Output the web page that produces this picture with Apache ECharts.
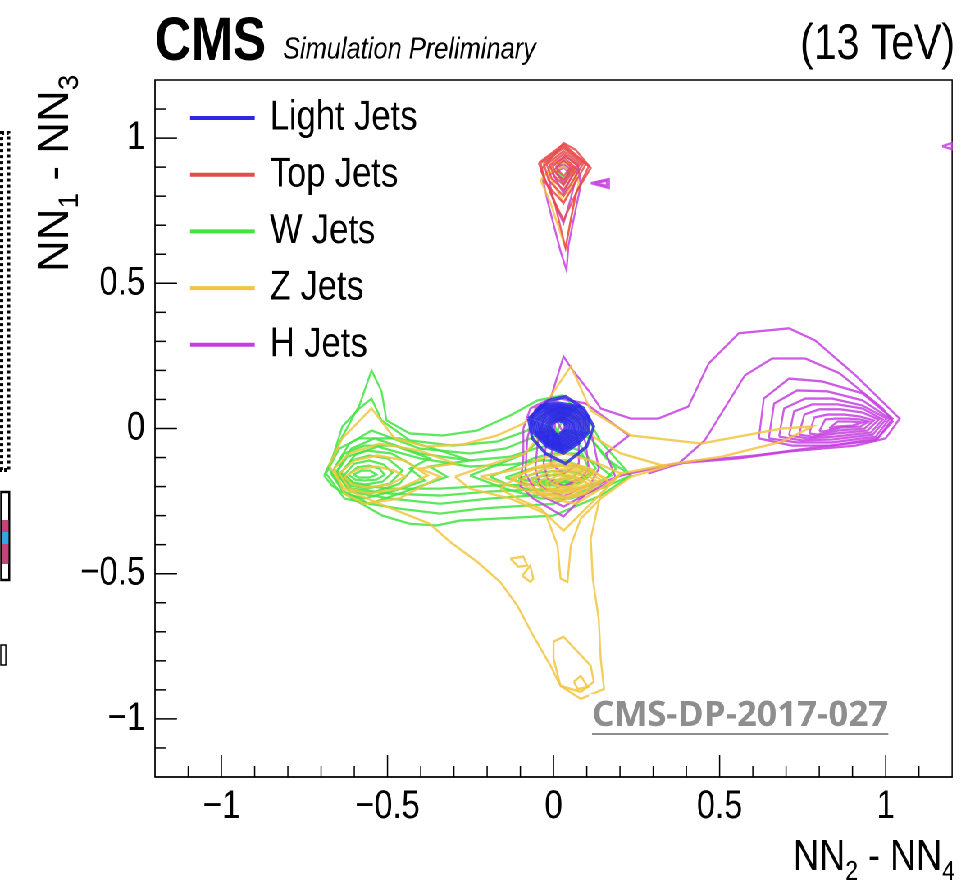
<!DOCTYPE html>
<html>
<head>
<meta charset="utf-8">
<script src="https://cdn.jsdelivr.net/npm/echarts@6/dist/echarts.min.js"></script>
<style>
html, body { margin: 0; padding: 0; background: #fff; overflow: hidden; }
#wrap { width: 1177px; height: 890px; transform: scaleX(0.82); transform-origin: 0 0; }
#chart { width: 1177px; height: 890px; }
</style>
</head>
<body>
<div id="wrap"><div id="chart"></div></div>
<script>
// Jet classes, in legend order, and their contour colours
const jetNames = ['Light Jets', 'Top Jets', 'W Jets', 'Z Jets', 'H Jets'];
const jetColors = ['#2a2ae4', '#e64a4a', '#3fe43f', '#f2c540', '#c63ee0'];

// Axis range, labelled (major) ticks and unlabelled (minor) ticks
const axisMin = -1.2;
const axisMax = 1.2;
const majorTicks = [-1, -0.5, 0, 0.5, 1];
const minorTicks = [-1.1, -0.9, -0.8, -0.7, -0.6, -0.4, -0.3, -0.2, -0.1, 0.1, 0.2, 0.3, 0.4, 0.6, 0.7, 0.8, 0.9, 1.1];

// Iso-density contours, one closed ring per entry, in (NN2 - NN4, NN1 - NN3) units
const lightJetsContours = [
  [[-0.076,0.034],[-0.015,0.097],[0.036,0.110],[0.091,0.069],[0.121,0.007],[0.100,-0.062],[0.036,-0.121],[-0.024,-0.086],[-0.064,-0.034]],
  [[-0.070,0.034],[-0.040,0.078],[0.012,0.088],[0.078,0.076],[0.108,0.034],[0.106,-0.012],[0.076,-0.050],[0.030,-0.085],[-0.020,-0.062],[-0.062,-0.012]],
  [[-0.064,0.032],[-0.036,0.072],[0.012,0.081],[0.073,0.070],[0.101,0.032],[0.099,-0.011],[0.071,-0.046],[0.028,-0.078],[-0.017,-0.057],[-0.056,-0.011]],
  [[-0.058,0.030],[-0.032,0.067],[0.013,0.075],[0.068,0.065],[0.094,0.030],[0.092,-0.010],[0.066,-0.042],[0.027,-0.072],[-0.015,-0.053],[-0.051,-0.010]],
  [[-0.051,0.027],[-0.027,0.062],[0.013,0.069],[0.063,0.060],[0.087,0.027],[0.085,-0.009],[0.061,-0.038],[0.025,-0.066],[-0.012,-0.048],[-0.045,-0.009]],
  [[-0.045,0.025],[-0.022,0.057],[0.014,0.063],[0.058,0.055],[0.080,0.025],[0.078,-0.008],[0.056,-0.035],[0.024,-0.060],[-0.010,-0.044],[-0.040,-0.008]],
  [[-0.039,0.022],[-0.018,0.051],[0.014,0.057],[0.053,0.049],[0.073,0.022],[0.071,-0.007],[0.051,-0.031],[0.022,-0.054],[-0.007,-0.040],[-0.034,-0.007]],
  [[-0.033,0.020],[-0.013,0.046],[0.014,0.051],[0.048,0.044],[0.066,0.020],[0.064,-0.006],[0.046,-0.028],[0.021,-0.048],[-0.004,-0.035],[-0.028,-0.006]],
  [[-0.026,0.017],[-0.008,0.040],[0.015,0.045],[0.043,0.039],[0.059,0.017],[0.057,-0.005],[0.041,-0.024],[0.019,-0.042],[-0.001,-0.030],[-0.022,-0.005]],
  [[-0.020,0.015],[-0.004,0.035],[0.015,0.039],[0.038,0.034],[0.052,0.015],[0.050,-0.004],[0.036,-0.020],[0.018,-0.036],[0.002,-0.026],[-0.016,-0.004]],
  [[-0.014,0.012],[0.000,0.029],[0.015,0.033],[0.033,0.028],[0.045,0.012],[0.043,-0.003],[0.031,-0.016],[0.017,-0.030],[0.004,-0.021],[-0.010,-0.003]],
  [[-0.008,0.010],[0.004,0.024],[0.015,0.027],[0.028,0.023],[0.038,0.010],[0.036,-0.002],[0.026,-0.012],[0.015,-0.024],[0.006,-0.017],[-0.004,-0.002]]
];

const topJetsContours = [
  [[-0.039,0.890],[0.006,0.948],[0.030,0.983],[0.067,0.959],[0.112,0.897],[0.067,0.810],[0.036,0.621],[0.000,0.793]],
  [[-0.045,0.914],[0.030,0.979],[0.106,0.903],[0.061,0.793],[0.030,0.717],[-0.009,0.810]],
  [[-0.039,0.914],[0.030,0.972],[0.097,0.910],[0.030,0.776],[-0.024,0.845]],
  [[-0.030,0.914],[0.030,0.966],[0.088,0.910],[0.030,0.800],[-0.015,0.855]],
  [[-0.021,0.910],[0.030,0.955],[0.079,0.910],[0.030,0.821],[-0.006,0.862]],
  [[-0.012,0.907],[0.030,0.945],[0.070,0.907],[0.030,0.838],[0.003,0.869]],
  [[-0.003,0.903],[0.030,0.934],[0.061,0.903],[0.030,0.855],[0.009,0.876]],
  [[0.006,0.900],[0.030,0.924],[0.052,0.900],[0.030,0.869]]
];

const wJetsContours = [
  [[-0.691,-0.162],[-0.636,-0.028],[-0.585,0.079],[-0.548,0.200],[-0.518,0.128],[-0.503,0.028],[-0.433,-0.017],[-0.333,-0.024],[-0.230,-0.007],[-0.130,0.045],[-0.048,0.097],[0.027,0.114],[0.112,0.017],[0.142,-0.045],[0.233,-0.162],[0.142,-0.231],[0.000,-0.300],[-0.282,-0.317],[-0.352,-0.334],[-0.433,-0.328],[-0.515,-0.300],[-0.606,-0.241],[-0.667,-0.197]],
  [[-0.676,-0.138],[-0.636,0.007],[-0.585,0.069],[-0.548,0.103],[-0.518,0.028],[-0.433,-0.041],[-0.303,-0.059],[-0.170,-0.045],[-0.079,-0.007],[-0.039,0.041],[0.000,0.062],[0.067,0.034],[0.112,-0.034],[0.188,-0.138],[0.142,-0.190],[0.000,-0.259],[-0.221,-0.276],[-0.342,-0.293],[-0.464,-0.276],[-0.555,-0.259],[-0.630,-0.217]],
  [[-0.661,-0.138],[-0.615,-0.052],[-0.548,-0.007],[-0.403,-0.069],[-0.252,-0.086],[-0.145,-0.069],[-0.070,-0.034],[-0.009,0.000],[0.067,-0.034],[0.127,-0.138],[0.021,-0.224],[-0.191,-0.241],[-0.342,-0.259],[-0.494,-0.241],[-0.615,-0.217]],
  [[-0.652,-0.145],[-0.609,-0.069],[-0.539,-0.034],[-0.403,-0.086],[-0.252,-0.110],[-0.130,-0.097],[-0.055,-0.069],[0.006,-0.052],[0.082,-0.076],[0.112,-0.155],[0.006,-0.207],[-0.191,-0.217],[-0.342,-0.231],[-0.494,-0.224],[-0.609,-0.207]],
  [[-0.639,-0.152],[-0.597,-0.090],[-0.530,-0.062],[-0.403,-0.103],[-0.252,-0.131],[-0.130,-0.124],[-0.039,-0.110],[0.036,-0.110],[0.097,-0.138],[0.021,-0.190],[-0.191,-0.197],[-0.342,-0.207],[-0.494,-0.207],[-0.600,-0.193]],
  [[-0.685,-0.155],[-0.645,-0.069],[-0.585,-0.034],[-0.464,-0.034],[-0.342,-0.076],[-0.252,-0.110],[-0.373,-0.131],[-0.321,-0.166],[-0.464,-0.224],[-0.555,-0.259],[-0.630,-0.241]],
  [[-0.670,-0.155],[-0.630,-0.086],[-0.570,-0.059],[-0.479,-0.059],[-0.373,-0.103],[-0.433,-0.138],[-0.388,-0.179],[-0.479,-0.214],[-0.570,-0.241],[-0.630,-0.224]],
  [[-0.655,-0.155],[-0.621,-0.097],[-0.561,-0.076],[-0.488,-0.086],[-0.418,-0.131],[-0.464,-0.190],[-0.555,-0.224],[-0.615,-0.207]],
  [[-0.642,-0.155],[-0.609,-0.110],[-0.555,-0.093],[-0.500,-0.103],[-0.455,-0.145],[-0.494,-0.190],[-0.561,-0.207],[-0.609,-0.197]],
  [[-0.630,-0.159],[-0.600,-0.121],[-0.555,-0.110],[-0.512,-0.124],[-0.485,-0.152],[-0.515,-0.183],[-0.567,-0.193],[-0.603,-0.186]],
  [[-0.618,-0.159],[-0.591,-0.134],[-0.555,-0.128],[-0.524,-0.138],[-0.509,-0.159],[-0.533,-0.176],[-0.570,-0.179],[-0.597,-0.176]],
  [[-0.603,-0.159],[-0.579,-0.145],[-0.552,-0.145],[-0.533,-0.159],[-0.555,-0.169],[-0.585,-0.169]],
  [[-0.252,-0.162],[-0.161,-0.121],[-0.085,-0.086],[-0.039,-0.034],[0.036,-0.007],[0.112,-0.034],[0.158,-0.103],[0.233,-0.162],[0.142,-0.207],[0.052,-0.241],[-0.039,-0.241],[-0.145,-0.207]],
  [[-0.191,-0.166],[-0.115,-0.131],[-0.061,-0.103],[-0.009,-0.086],[0.067,-0.086],[0.127,-0.121],[0.173,-0.162],[0.112,-0.197],[0.036,-0.214],[-0.055,-0.214],[-0.130,-0.197]],
  [[-0.145,-0.169],[-0.076,-0.141],[-0.009,-0.128],[0.067,-0.128],[0.118,-0.155],[0.082,-0.186],[0.015,-0.197],[-0.070,-0.193]],
  [[-0.106,-0.172],[-0.045,-0.152],[0.015,-0.145],[0.073,-0.152],[0.097,-0.169],[0.052,-0.183],[-0.009,-0.186],[-0.064,-0.183]],
  [[-0.070,-0.172],[-0.024,-0.162],[0.021,-0.159],[0.061,-0.169],[0.021,-0.176],[-0.024,-0.179]],
  [[-0.009,0.028],[0.027,0.028],[0.012,-0.007]],
  [[0.009,0.890],[0.030,0.910],[0.048,0.886],[0.030,0.855]]
];

const zJetsContours = [
  [[-0.676,-0.128],[-0.636,-0.034],[-0.548,0.069],[-0.479,-0.034],[-0.382,-0.062],[-0.273,-0.055],[-0.170,-0.024],[-0.091,0.017],[-0.024,0.086],[0.052,0.214],[0.073,0.162],[0.112,0.062],[0.233,-0.024],[0.445,-0.052],[0.688,0.000],[0.779,0.007],[0.688,-0.045],[0.506,-0.097],[0.324,-0.128],[0.203,-0.155],[0.142,-0.224],[0.112,-0.379],[0.118,-0.517],[0.136,-0.655],[0.142,-0.793],[0.152,-0.897],[0.082,-0.931],[0.021,-0.886],[-0.009,-0.817],[-0.061,-0.714],[-0.109,-0.610],[-0.161,-0.528],[-0.230,-0.459],[-0.312,-0.390],[-0.373,-0.328],[-0.524,-0.259],[-0.630,-0.207]],
  [[-0.297,-0.166],[-0.191,-0.124],[-0.085,-0.086],[-0.024,0.000],[0.021,0.069],[0.073,0.041],[0.127,-0.034],[0.203,-0.086],[0.339,-0.131],[0.233,-0.166],[0.142,-0.241],[0.082,-0.310],[0.052,-0.403],[0.042,-0.528],[0.021,-0.517],[0.012,-0.403],[-0.024,-0.293],[-0.130,-0.241],[-0.252,-0.207]],
  [[-0.161,-0.207],[-0.070,-0.138],[0.021,-0.110],[0.112,-0.138],[0.173,-0.190],[0.112,-0.259],[0.030,-0.352],[-0.039,-0.276],[-0.109,-0.241]],
  [[-0.221,-0.166],[-0.100,-0.138],[-0.039,-0.103],[0.036,-0.086],[0.112,-0.110],[0.203,-0.155],[0.142,-0.207],[0.067,-0.259],[-0.009,-0.241],[-0.100,-0.207]],
  [[-0.130,-0.172],[-0.055,-0.138],[0.021,-0.121],[0.097,-0.138],[0.158,-0.172],[0.097,-0.224],[0.036,-0.241],[-0.039,-0.224]],
  [[-0.100,-0.176],[-0.033,-0.141],[0.027,-0.128],[0.094,-0.145],[0.142,-0.176],[0.091,-0.221],[0.033,-0.234],[-0.033,-0.221]],
  [[-0.070,-0.179],[-0.009,-0.148],[0.036,-0.138],[0.088,-0.152],[0.127,-0.179],[0.082,-0.214],[0.030,-0.224],[-0.024,-0.214]],
  [[-0.045,-0.183],[0.003,-0.155],[0.039,-0.148],[0.085,-0.162],[0.115,-0.186],[0.076,-0.210],[0.030,-0.217],[-0.015,-0.210]],
  [[-0.024,-0.186],[0.012,-0.162],[0.042,-0.159],[0.082,-0.172],[0.103,-0.190],[0.067,-0.207],[0.027,-0.210],[-0.009,-0.207]],
  [[-0.009,-0.190],[0.024,-0.169],[0.058,-0.169],[0.091,-0.183],[0.064,-0.200],[0.027,-0.203]],
  [[0.006,-0.190],[0.036,-0.172],[0.070,-0.183],[0.052,-0.200],[0.021,-0.200]],
  [[-0.661,-0.138],[-0.615,-0.086],[-0.524,-0.052],[-0.403,-0.076],[-0.297,-0.121],[-0.403,-0.138],[-0.342,-0.166],[-0.464,-0.241],[-0.570,-0.259],[-0.630,-0.224]],
  [[-0.645,-0.155],[-0.600,-0.110],[-0.530,-0.093],[-0.448,-0.110],[-0.379,-0.162],[-0.464,-0.207],[-0.555,-0.224],[-0.615,-0.207]],
  [[-0.630,-0.166],[-0.585,-0.138],[-0.530,-0.131],[-0.479,-0.145],[-0.448,-0.166],[-0.494,-0.193],[-0.561,-0.203],[-0.606,-0.193]],
  [[0.000,-0.734],[0.030,-0.717],[0.112,-0.817],[0.121,-0.872],[0.082,-0.907],[0.021,-0.886],[0.000,-0.793]],
  [[0.061,-0.872],[0.082,-0.852],[0.103,-0.890],[0.073,-0.897]],
  [[-0.130,-0.448],[-0.091,-0.441],[-0.079,-0.472],[-0.106,-0.476]],
  [[-0.094,-0.507],[-0.070,-0.472],[-0.061,-0.517],[-0.070,-0.528]],
  [[-0.039,0.855],[0.006,0.914],[0.052,0.914],[0.076,0.845],[0.052,0.724],[0.036,0.621],[0.021,0.672],[-0.009,0.776]],
  [[-0.015,0.879],[0.030,0.903],[0.067,0.869],[0.030,0.776]]
];

const hJetsContours = [
  [[-0.091,0.000],[-0.070,0.069],[-0.009,0.103],[0.030,0.248],[0.058,0.200],[0.112,0.121],[0.142,0.069],[0.233,0.034],[0.315,0.034],[0.406,0.076],[0.467,0.224],[0.558,0.328],[0.709,0.345],[0.788,0.303],[0.909,0.183],[1.042,0.034],[1.000,-0.034],[0.909,-0.059],[0.709,-0.079],[0.558,-0.103],[0.364,-0.121],[0.203,-0.162],[0.121,-0.197],[0.030,-0.303],[-0.061,-0.241],[-0.100,-0.197],[-0.091,-0.103]],
  [[0.285,-0.155],[0.376,-0.121],[0.455,-0.041],[0.576,0.183],[0.658,0.241],[0.758,0.241],[0.861,0.190],[0.991,0.069],[1.021,0.024],[0.970,-0.041],[0.809,-0.062],[0.606,-0.093],[0.406,-0.114],[0.324,-0.138]],
  [[0.618,-0.034],[0.633,0.103],[0.709,0.172],[0.809,0.162],[0.930,0.121],[1.021,0.034],[0.976,-0.034],[0.839,-0.059],[0.718,-0.059]],
  [[0.648,-0.034],[0.664,0.086],[0.733,0.131],[0.824,0.128],[0.930,0.097],[1.012,0.034],[0.970,-0.028],[0.839,-0.048],[0.733,-0.048]],
  [[0.679,-0.028],[0.694,0.069],[0.758,0.103],[0.839,0.103],[0.930,0.079],[1.003,0.034],[0.961,-0.021],[0.839,-0.038],[0.748,-0.041]],
  [[0.709,-0.024],[0.724,0.059],[0.779,0.083],[0.855,0.083],[0.930,0.069],[0.991,0.031],[0.955,-0.014],[0.845,-0.028],[0.764,-0.034]],
  [[0.739,-0.021],[0.755,0.048],[0.800,0.066],[0.864,0.066],[0.930,0.055],[0.979,0.031],[0.945,-0.007],[0.852,-0.017],[0.779,-0.028]],
  [[0.770,-0.017],[0.785,0.038],[0.824,0.048],[0.876,0.048],[0.924,0.041],[0.964,0.028],[0.936,0.000],[0.858,-0.007],[0.794,-0.021]],
  [[0.800,-0.010],[0.818,0.031],[0.848,0.034],[0.888,0.034],[0.924,0.031],[0.948,0.024],[0.924,0.007],[0.864,0.003],[0.815,-0.010]],
  [[0.830,0.000],[0.855,0.024],[0.894,0.024],[0.930,0.021],[0.900,0.010],[0.855,0.007]],
  [[-0.079,-0.034],[-0.055,0.069],[0.021,0.103],[0.097,0.086],[0.227,-0.024],[0.158,-0.086],[0.188,-0.172],[0.112,-0.217],[0.030,-0.269],[-0.048,-0.224],[-0.085,-0.155]],
  [[-0.048,-0.052],[-0.024,0.052],[0.021,0.076],[0.082,0.052],[0.118,-0.034],[0.136,-0.138],[0.112,-0.190],[0.030,-0.234],[-0.039,-0.200],[-0.055,-0.138]],
  [[-0.024,-0.069],[-0.009,0.034],[0.027,0.059],[0.073,0.034],[0.097,-0.052],[0.106,-0.138],[0.082,-0.172],[0.030,-0.200],[-0.018,-0.172],[-0.030,-0.121]],
  [[-0.003,-0.052],[0.006,0.028],[0.030,0.041],[0.058,0.017],[0.076,-0.052],[0.076,-0.121],[0.030,-0.155],[-0.009,-0.121]],
  [[0.009,0.028],[0.039,0.034],[0.027,-0.010]],
  [[-0.033,0.862],[-0.003,0.907],[0.036,0.938],[0.073,0.907],[0.082,0.838],[0.061,0.724],[0.045,0.631],[0.039,0.545],[0.021,0.610],[-0.018,0.783]],
  [[-0.015,0.869],[0.030,0.921],[0.073,0.890],[0.052,0.793],[0.030,0.707],[-0.003,0.793]],
  [[-0.003,0.879],[0.030,0.910],[0.061,0.883],[0.030,0.810]],
  [[0.009,0.883],[0.030,0.900],[0.048,0.879],[0.030,0.841]],
  [[0.112,0.845],[0.167,0.859],[0.167,0.828]],
  [[0.125,0.845],[0.160,0.853],[0.160,0.836]],
  [[1.170,0.972],[1.199,0.983],[1.199,0.962]]
];

const contoursByJet = {
  'Light Jets': lightJetsContours,
  'Top Jets': topJetsContours,
  'W Jets': wJetsContours,
  'Z Jets': zJetsContours,
  'H Jets': hJetsContours
};

// The chart is laid out 1/SQ wider and narrowed back by the #wrap transform,
// which gives the condensed lettering of the original style.
const SQ = 0.82;
const wide = v => v / SQ;

const SANS = '"Liberation Sans", Arial, sans-serif';

const measureCtx = document.createElement('canvas').getContext('2d');
function textWidth(str, font) {
  measureCtx.font = font;
  return measureCtx.measureText(str).width;
}

// "NN_a - NN_b" style titles built from alternating normal / subscript pieces
function subscriptTitle(parts, size, subSize, drop) {
  const bigFont = size + 'px ' + SANS;
  const subFont = subSize + 'px ' + SANS;
  let x = 0;
  const children = parts.map((p, i) => {
    const sub = i % 2 === 1;
    const font = sub ? subFont : bigFont;
    const fs = sub ? subSize : size;
    const el = {
      type: 'text', x: x, y: (sub ? drop : 0) - 0.32 * fs,
      style: { text: p, font: font, fill: '#000', align: 'left', verticalAlign: 'middle' }
    };
    x += textWidth(p, font);
    return el;
  });
  return { children, width: x };
}

function tickLabel(v) {
  const k = Math.round(v * 10);
  if (k % 5 !== 0 || Math.abs(k) > 10) return '';
  return String(k / 10).replace('-', '\u2212');
}

const lineWidths = { 'Light Jets': 3.4, 'Top Jets': 2.3, 'W Jets': 2.3, 'Z Jets': 2.4, 'H Jets': 2.3 };

function contourSeries(name, idx) {
  return {
    type: 'lines',
    name: name,
    coordinateSystem: 'cartesian2d',
    xAxisIndex: 0,
    yAxisIndex: 0,
    polyline: true,
    silent: true,
    animation: false,
    z: 2 + idx,
    lineStyle: { color: jetColors[jetNames.indexOf(name)], width: lineWidths[name], opacity: 0.85 },
    data: contoursByJet[name].map(ring => ({ coords: ring.concat([ring[0]]) }))
  };
}

// Inward tick marks on the bottom (axis 0) and left (axis 1) frame edges
const tickItems = [];
majorTicks.forEach(v => { tickItems.push([v, 0, 22]); tickItems.push([v, 1, 22]); });
minorTicks.forEach(v => { tickItems.push([v, 0, 11]); tickItems.push([v, 1, 11]); });

const tickSeries = {
  type: 'custom',
  name: 'ticks',
  coordinateSystem: 'cartesian2d',
  silent: true,
  animation: false,
  z: 20,
  data: tickItems,
  renderItem: function (params, api) {
    const v = api.value(0), side = api.value(1), len = api.value(2);
    if (side === 0) {
      const p = api.coord([v, axisMin]);
      return { type: 'line', shape: { x1: p[0], y1: p[1], x2: p[0], y2: p[1] - len }, style: { stroke: '#000', lineWidth: 1.5 } };
    }
    const p = api.coord([axisMin, v]);
    return { type: 'line', shape: { x1: p[0], y1: p[1], x2: p[0] + len / SQ, y2: p[1] }, style: { stroke: '#000', lineWidth: 1.5 } };
  }
};

const axisLineStyle = { color: '#000', width: 1.5 };

function frameAxis(position, labelMargin) {
  return {
    type: 'value', min: axisMin, max: axisMax, interval: 0.1, position: position,
    axisLine: { show: true, onZero: false, lineStyle: axisLineStyle },
    axisTick: { show: false },
    axisLabel: { formatter: tickLabel, color: '#000', fontFamily: SANS, fontSize: 40, margin: labelMargin },
    splitLine: { show: false }
  };
}

const yTitle = subscriptTitle(['NN', '1', ' - NN', '3'], 44, 28, 9);
const xTitle = subscriptTitle(['NN', '2', ' - NN', '4'], 44, 28, 9);

const noteText = 'CMS-DP-2017-027';
const noteFont = 'bold 35px "Open Sans", "Noto Sans", sans-serif';
const noteWidth = textWidth(noteText, noteFont);

const chart = echarts.init(document.getElementById('chart'), null, { renderer: 'canvas', devicePixelRatio: 2 });
chart.setOption({
  backgroundColor: '#fff',
  animation: false,
  grid: {
    left: wide(155), right: wide(13), top: 80, bottom: 113,
    show: true, borderColor: '#000', borderWidth: 1.5, backgroundColor: 'transparent',
    outerBoundsMode: 'none'
  },
  xAxis: frameAxis('bottom', 10),
  yAxis: frameAxis('left', wide(10)),
  legend: {
    orient: 'vertical', left: wide(186), top: 92, icon: 'rect',
    itemWidth: wide(63), itemHeight: 2, itemGap: 14.7, selectedMode: false,
    textStyle: { fontFamily: SANS, fontSize: 42, lineHeight: 42, color: '#000', padding: [0, 0, 0, wide(265) - wide(249) - 5] },
    data: jetNames.map((n, i) => ({ name: n, itemStyle: { color: jetColors[i] } }))
  },
  series: ['W Jets', 'H Jets', 'Z Jets', 'Top Jets', 'Light Jets'].map(contourSeries).concat([tickSeries]),
  graphic: [
    { type: 'text', x: wide(155), y: 43, style: { text: 'CMS', font: 'bold 61px ' + SANS, fill: '#000', align: 'left', verticalAlign: 'middle' } },
    { type: 'text', x: wide(283), y: 50, style: { text: 'Simulation Preliminary', font: 'italic 31px ' + SANS, fill: '#000', align: 'left', verticalAlign: 'middle' } },
    { type: 'text', x: wide(955), y: 45, style: { text: '(13 TeV)', font: '50px ' + SANS, fill: '#000', align: 'right', verticalAlign: 'middle' } },
    { type: 'group', x: wide(70), y: 272, rotation: Math.PI / 2, scaleY: 1 / SQ, children: yTitle.children },
    { type: 'group', x: wide(955) - xTitle.width, y: 872, children: xTitle.children },
    { type: 'rect', z: 100, shape: { x: wide(589), y: 694, width: wide(362), height: 48 }, style: { fill: '#fff' } },
    { type: 'text', z: 101, x: wide(592), y: 716, scaleX: 1 / SQ, style: { text: noteText, font: noteFont, fill: '#8e8e8e', align: 'left', verticalAlign: 'middle' } },
    { type: 'line', z: 101, shape: { x1: wide(592), y1: 734, x2: wide(592 + noteWidth), y2: 734 }, style: { stroke: '#8e8e8e', lineWidth: 2 } },
    // strip of a neighbouring panel at the left edge
    { type: 'rect', shape: { x: 2, y: 133, width: wide(7), height: 337 }, style: { fill: '#fff', stroke: '#000', lineWidth: 4, lineDash: [3, 3] } },
    { type: 'rect', shape: { x: 1.5, y: 492, width: wide(8), height: 88 }, style: { fill: '#fff', stroke: '#000', lineWidth: 2.5 } },
    { type: 'rect', shape: { x: 2.5, y: 520, width: wide(6.5), height: 12 }, style: { fill: '#c0457a' } },
    { type: 'rect', shape: { x: 2.5, y: 532, width: wide(6.5), height: 12 }, style: { fill: '#36a6e0' } },
    { type: 'rect', shape: { x: 2.5, y: 544, width: wide(6.5), height: 20 }, style: { fill: '#c0457a' } },
    { type: 'rect', shape: { x: 1, y: 645, width: wide(5), height: 20 }, style: { fill: '#fff', stroke: '#000', lineWidth: 1.5 } }
  ]
});
</script>
</body>
</html>
